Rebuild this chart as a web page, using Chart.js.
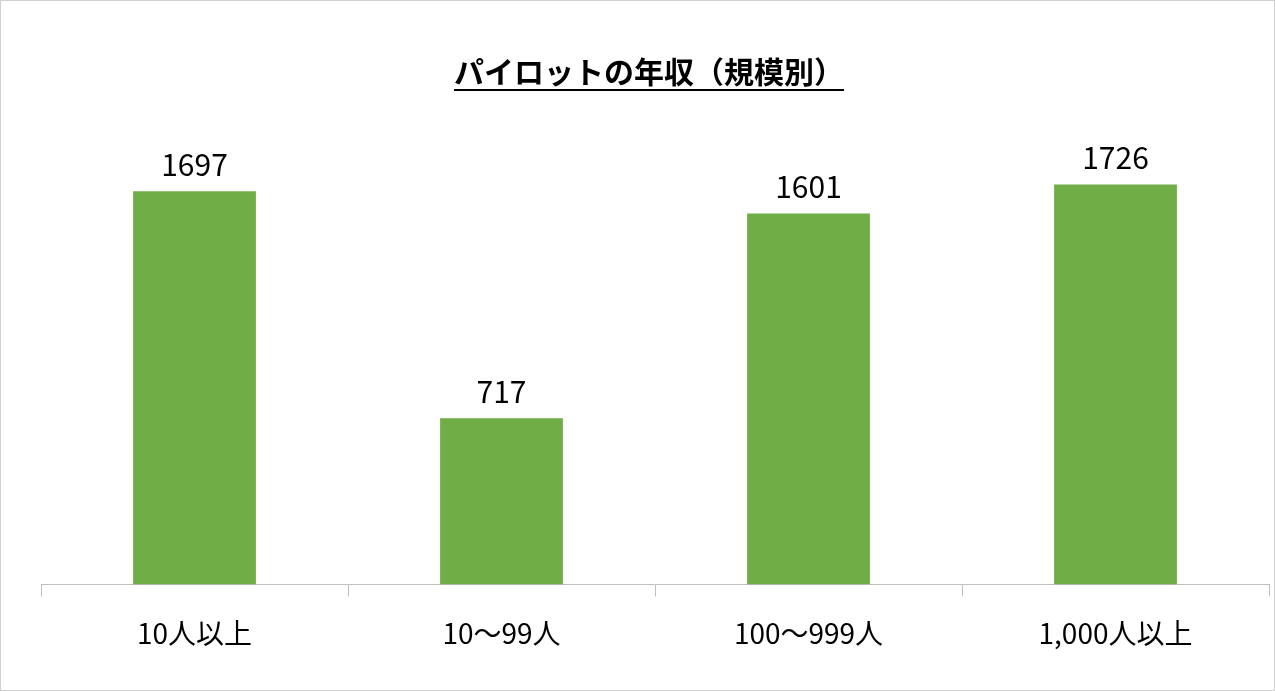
<!DOCTYPE html>
<html>
<head>
<meta charset="utf-8">
<script src="https://cdn.jsdelivr.net/npm/chart.js@4"></script>
<style>
  html, body { margin: 0; padding: 0; background: #fff; }
  #wrap { width: 1273px; height: 689px; border: 1px solid #d0d0d0; }
</style>
</head>
<body>
<div id="wrap"><canvas id="chart" width="1273" height="689"></canvas></div>
<script>
// Data
const categories = ['10人以上', '10〜99人', '100〜999人', '1,000人以上'];
const salaries = [1697, 717, 1601, 1726];
const chartTitle = 'パイロットの年収（規模別）';

const FONT = '"Noto Sans CJK JP", "Noto Sans", sans-serif';

// Underlined title
const titlePlugin = {
    id: 'underlinedTitle',
    afterDraw(chart) {
        const ctx = chart.ctx;
        ctx.save();
        ctx.font = 'bold 30px ' + FONT;
        ctx.fillStyle = '#000';
        ctx.textAlign = 'center';
        ctx.textBaseline = 'alphabetic';
        const x = 648, y = 82;
        ctx.fillText(chartTitle, x, y);
        const w = ctx.measureText(chartTitle).width;
        ctx.fillRect(x - w / 2, y + 6, w, 2);
        ctx.restore();
    }
};

// Value labels above bars
const valuePlugin = {
    id: 'valueLabels',
    afterDatasetsDraw(chart) {
        const ctx = chart.ctx;
        ctx.save();
        ctx.font = '30px ' + FONT;
        ctx.fillStyle = '#000';
        ctx.textAlign = 'center';
        ctx.textBaseline = 'bottom';
        chart.getDatasetMeta(0).data.forEach((bar, i) => {
            ctx.fillText(salaries[i], bar.x, bar.y - 12);
        });
        ctx.restore();
    }
};

const ctx = document.getElementById('chart').getContext('2d');
new Chart(ctx, {
    type: 'bar',
    data: {
        labels: categories,
        datasets: [{
            data: salaries,
            backgroundColor: '#70AD47',
            borderWidth: 0,
            barPercentage: 0.8,
            categoryPercentage: 0.5
        }]
    },
    options: {
        responsive: false,
        animation: false,
        layout: { padding: { left: 40, right: 5, top: 120, bottom: 20 } },
        plugins: { legend: { display: false }, tooltip: { enabled: false } },
        scales: {
            x: {
                offset: true,
                grid: {
                    offset: true,
                    drawOnChartArea: false,
                    tickLength: 12,
                    color: '#bfbfbf'
                },
                border: { color: '#bfbfbf' },
                ticks: {
                    font: { family: FONT, size: 28 },
                    color: '#000',
                    padding: 20,
                    maxRotation: 0
                }
            },
            y: {
                display: false,
                min: 0,
                max: 2000
            }
        }
    },
    plugins: [titlePlugin, valuePlugin]
});
</script>
</body>
</html>
